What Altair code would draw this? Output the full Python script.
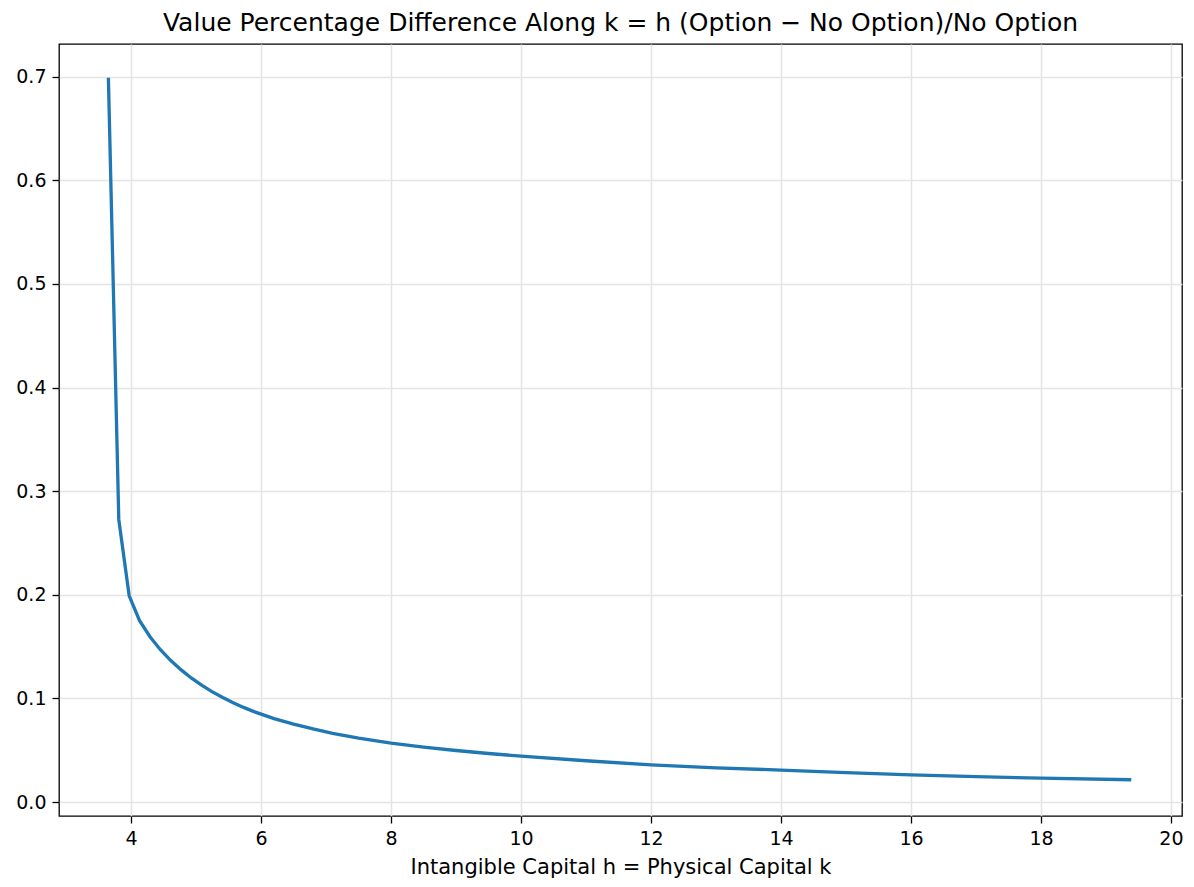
import altair as alt
import pandas as pd

capital = [3.65, 3.81, 3.97, 4.13, 4.29, 4.45, 4.61, 4.77, 4.93, 5.09, 5.25, 5.41, 5.57,
           5.73, 5.89, 6.2, 6.5, 6.8, 7.1, 7.5, 8.0, 8.5, 9.0, 9.5, 10.0, 11.0, 12.0,
           13.0, 14.0, 15.0, 16.0, 17.0, 18.0, 19.39]
pct_diff = [0.699, 0.2725, 0.199, 0.1750, 0.1595, 0.1470, 0.1365, 0.1275, 0.1195, 0.1125,
            0.1063, 0.1008, 0.0958, 0.0913, 0.0872, 0.0805, 0.0752, 0.0705, 0.0663, 0.0617,
            0.0568, 0.0530, 0.0497, 0.0468, 0.0443, 0.0398, 0.0358, 0.0330, 0.0308,
            0.0283, 0.0262, 0.0245, 0.0230, 0.0215]
x_ticks = [4, 6, 8, 10, 12, 14, 16, 18, 20]
y_ticks = [0.0, 0.1, 0.2, 0.3, 0.4, 0.5, 0.6, 0.7]

df = pd.DataFrame({"k": capital, "v": pct_diff})

FONT = "DejaVu Sans"

chart = alt.Chart(df).mark_line(color="#1f77b4", strokeWidth=3.3, clip=True).encode(
    x=alt.X("k:Q", scale=alt.Scale(domain=[2.89, 20.17], nice=False, zero=False),
            axis=alt.Axis(values=x_ticks, format="d", title="Intangible Capital h = Physical Capital k",
                          titlePadding=8)),
    y=alt.Y("v:Q", scale=alt.Scale(domain=[-0.0135, 0.7315], nice=False, zero=False),
            axis=alt.Axis(values=y_ticks, format=".1f", title=None)),
).properties(
    width=1123, height=772,
    title=alt.TitleParams("Value Percentage Difference Along k = h (Option − No Option)/No Option",
                          font=FONT, fontSize=25, fontWeight="normal", color="black",
                          anchor="middle", offset=8),
    autosize=alt.AutoSizeParams(type="none"),
    padding={"left": 59, "top": 44, "right": 12, "bottom": 71},
).configure(
    background="white"
).configure_view(
    stroke="black", strokeWidth=1.3
).configure_axis(
    labelFont=FONT, labelFontSize=19, labelColor="black",
    titleFont=FONT, titleFontSize=21, titleFontWeight="normal", titleColor="black",
    tickColor="black", tickSize=7, tickWidth=1.3, labelPadding=6,
    domain=False, grid=True, gridColor="#e4e4e4", gridWidth=1.5,
)

chart.save("out.html", embed_options={"renderer": "svg", "actions": False})
